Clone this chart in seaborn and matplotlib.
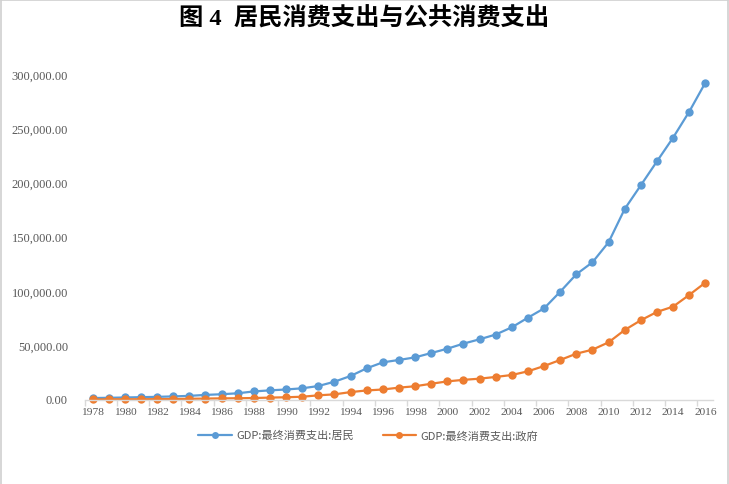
import numpy as np
import pandas as pd
import matplotlib
matplotlib.use("Agg")
import matplotlib.pyplot as plt
import seaborn as sns
from matplotlib.ticker import FuncFormatter, FixedLocator
from matplotlib.lines import Line2D

years = list(range(1978, 2017))
household = [1.8, 2.0, 2.3, 2.6, 2.9, 3.3, 3.8, 4.7, 5.3, 6.2, 7.9, 8.9, 9.7, 10.8,
             12.9, 16.9, 22.2, 29.3, 34.8, 37.0, 39.4, 43.4, 47.4, 52.1, 56.1, 60.5,
             67.2, 76.1, 84.7, 100.1, 116.2, 127.3, 145.8, 176.6, 198.5, 220.6, 242.5,
             266.5, 293.3]
government = [0.5, 0.6, 0.7, 0.7, 0.8, 0.9, 1.1, 1.3, 1.5, 1.6, 1.8, 2.2, 2.5, 3.0,
              4.3, 5.2, 7.3, 8.8, 9.7, 11.4, 12.7, 15.0, 17.2, 18.6, 19.7, 21.3,
              23.1, 26.5, 31.4, 37.0, 42.8, 46.5, 53.3, 64.7, 73.7, 81.4, 86.3,
              97.1, 108.5]
series_names = ["GDP:最终消费支出:居民", "GDP:最终消费支出:政府"]
colors = ["#5B9BD5", "#ED7D31"]
title = "图 4  居民消费支出与公共消费支出"

df = pd.DataFrame({
    "year": years * 2,
    "value": [v * 1000 for v in household] + [v * 1000 for v in government],
    "series": [series_names[0]] * len(years) + [series_names[1]] * len(years),
})

sns.set_theme(style="white")
plt.rcParams["font.family"] = ["Liberation Serif", "Noto Sans CJK SC", "DejaVu Sans"]

fig = plt.figure(figsize=(7.29, 4.84), dpi=100)
ax = fig.add_axes([0.1160, 0.1736, 0.8626, 0.6705])

sns.lineplot(data=df, x="year", y="value", hue="series", palette=colors,
             marker="o", markersize=6, markeredgewidth=0, linewidth=1.6,
             ax=ax, legend=False, clip_on=False)

ax.set_xlim(1977.5, 2016.5)
ax.set_ylim(0, 300000)
ax.set_xlabel("")
ax.set_ylabel("")

for s in ["top", "right", "left"]:
    ax.spines[s].set_visible(False)
ax.spines["bottom"].set_color("#d9d9d9")
ax.spines["bottom"].set_linewidth(1.0)

ax.xaxis.set_major_locator(FixedLocator(list(range(1978, 2017, 2))))
ax.xaxis.set_minor_locator(FixedLocator([1977.5 + 2 * k for k in range(20)]))
ax.tick_params(axis="x", which="major", length=0, pad=6, labelsize=8.2, labelcolor="#595959")
ax.tick_params(axis="x", which="minor", length=4, width=1, color="#d9d9d9", bottom=True)
ax.set_yticks(np.arange(0, 300001, 50000))
ax.yaxis.set_major_formatter(FuncFormatter(lambda v, p: f"{v:,.2f}"))
ax.tick_params(axis="y", length=0, pad=12, labelsize=9, labelcolor="#595959")
ax.grid(False)

fig.text(0.5, 1 - 19 / 484, title, ha="center", va="center", fontsize=17.5,
         fontweight="bold", color="#000000",
         family=["Liberation Serif", "Noto Sans CJK SC"])

handles = [Line2D([0], [0], color=c, marker="o", markersize=5, markeredgewidth=0,
                  linewidth=1.6) for c in colors]
leg = fig.legend(handles, series_names, loc="center", bbox_to_anchor=(0.505, 1 - 436 / 484),
                 ncol=2, frameon=False, handlelength=3.0, columnspacing=2.6,
                 handletextpad=0.4, prop={"family": ["Noto Sans CJK SC"], "size": 8})
for t in leg.get_texts():
    t.set_color("#595959")

border = dict(transform=fig.transFigure, color="#d0d0d0", linewidth=1.2)
fig.add_artist(Line2D([0.001, 0.001], [0, 0.999], **border))
fig.add_artist(Line2D([0.001, 0.998], [0.999, 0.999], **border))
fig.add_artist(Line2D([0.998, 0.998], [0, 0.999], **border))

fig.savefig("out.png", dpi=100)
